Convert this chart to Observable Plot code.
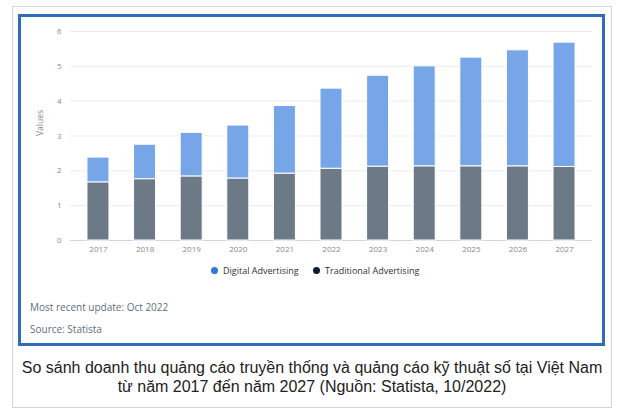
<!DOCTYPE html>
<html>
<head>
<meta charset="utf-8">
<script src="https://cdn.jsdelivr.net/npm/d3@7"></script>
<script src="https://cdn.jsdelivr.net/npm/@observablehq/plot@0.6"></script>
<style>
  html, body { margin: 0; padding: 0; background: #fff; width: 639px; height: 420px; overflow: hidden; }
  #outer { position: absolute; left: 12px; top: 6px; width: 598px; height: 400px; border: 1px solid #d4d4d4; }
  #box { position: absolute; left: 18px; top: 14px; width: 581px; height: 326px; border: 3px solid #2f6db5; }
  #chart { position: absolute; left: 0; top: 0; }
  .legend { position: absolute; top: 264px; font-family: "Open Sans", sans-serif; font-size: 9px; color: #333; display: flex; align-items: center; white-space: nowrap; }
  .dot { display: inline-block; width: 7px; height: 7px; border-radius: 50%; margin-right: 5px; }
  .note { position: absolute; left: 30px; font-family: "Open Sans", sans-serif; font-size: 10px; color: #5e6e7e; }
  #caption { position: absolute; left: 12px; width: 600px; top: 358px; text-align: center; font-family: "Liberation Sans", Arial, sans-serif; font-size: 16px; line-height: 19px; color: #222; }
</style>
</head>
<body>
<div id="outer"></div>
<div id="box"></div>
<div id="chart"></div>
<div class="legend" style="left:211px"><span class="dot" style="background:#2f78dc"></span>Digital Advertising</div>
<div class="legend" style="left:313px"><span class="dot" style="background:#0d1b2e"></span>Traditional Advertising</div>
<div class="note" style="top:300px">Most recent update: Oct 2022</div>
<div class="note" style="top:322px">Source: Statista</div>
<div id="caption">So sánh doanh thu quảng cáo truyền thống và quảng cáo kỹ thuật số tại Việt Nam<br>từ năm 2017 đến năm 2027 (Nguồn: Statista, 10/2022)</div>
<script>
const years = ["2017","2018","2019","2020","2021","2022","2023","2024","2025","2026","2027"];
const traditional = [1.67, 1.76, 1.84, 1.78, 1.92, 2.06, 2.12, 2.13, 2.13, 2.13, 2.11];
const digital = [0.71, 0.99, 1.25, 1.52, 1.94, 2.30, 2.61, 2.87, 3.12, 3.33, 3.57];
const seriesNames = ["Traditional Advertising", "Digital Advertising"];
const seriesColors = ["#6c7a88", "#77a6e8"];
const yTicks = [0, 1, 2, 3, 4, 5, 6];

const data = [];
years.forEach((y, i) => {
  data.push({year: y, series: seriesNames[0], value: traditional[i]});
  data.push({year: y, series: seriesNames[1], value: digital[i]});
});

const chart = Plot.plot({
  width: 639,
  height: 260,
  marginLeft: 70,
  marginRight: 47,
  marginTop: 31,
  marginBottom: 20,
  style: {fontFamily: "'Open Sans', sans-serif", fontSize: "8px", color: "#888", background: "transparent"},
  x: {domain: years, paddingInner: 0.528, paddingOuter: 0.364, round: false, label: null},
  y: {domain: [0, 6], label: null},
  color: {domain: seriesNames, range: seriesColors},
  marks: [
    Plot.gridY(yTicks.filter(d => d > 0), {stroke: "#e8ebef", strokeOpacity: 1}),
    Plot.ruleY([0], {stroke: "#ccd6eb"}),
    Plot.barY(data, {x: "year", y: "value", fill: "series", stroke: "#fff", strokeWidth: 1, order: seriesNames}),
    Plot.axisX({tickSize: 0, tickPadding: 6, fill: "#888"}),
    Plot.axisY(yTicks, {tickSize: 0, tickPadding: 9, fill: "#888", tickFormat: d3.format("d")}),
    Plot.text(["Values"], {frameAnchor: "left", dx: -30, rotate: -90, fill: "#888", fontSize: 8.5})
  ]
});
document.getElementById("chart").appendChild(chart);
</script>
</body>
</html>
